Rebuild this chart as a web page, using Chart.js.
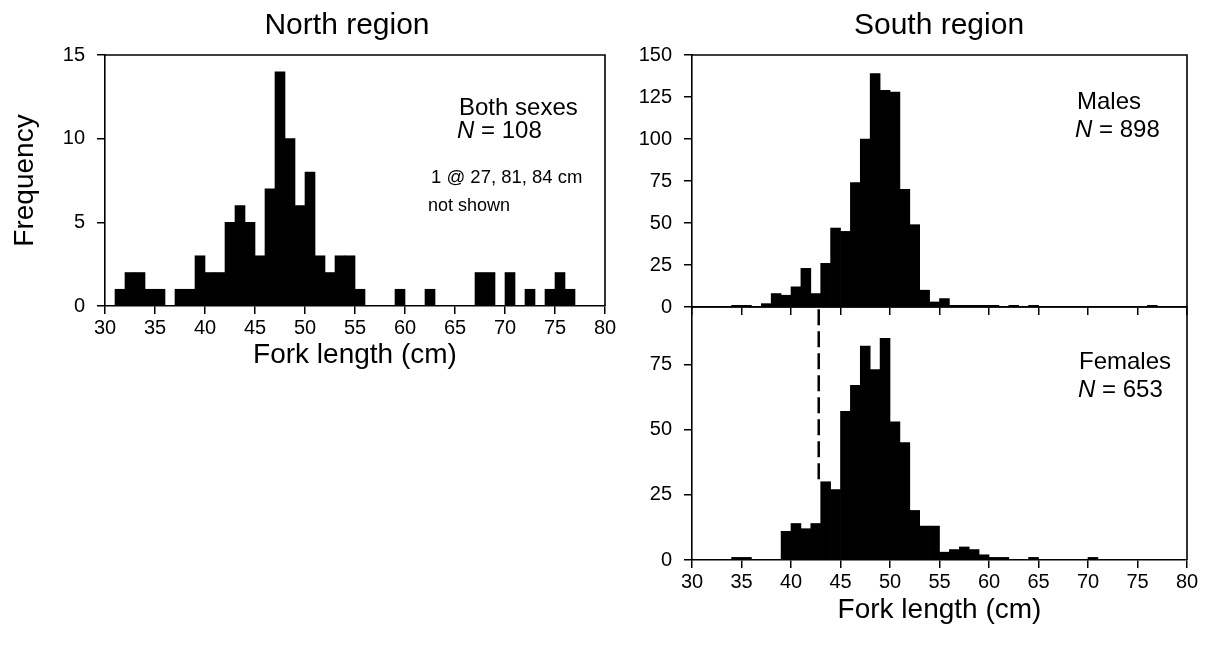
<!DOCTYPE html>
<html><head><meta charset="utf-8">
<script src="https://cdn.jsdelivr.net/npm/chart.js@4.4.1/dist/chart.umd.min.js"></script>
<style>
html,body{margin:0;padding:0;background:#fff;}
body{width:1219px;height:665px;position:relative;overflow:hidden;}
canvas{position:absolute;}
</style></head><body>
<canvas id="cn" width="640" height="400" style="left:0;top:0"></canvas>
<canvas id="cm" width="599" height="337" style="left:620px;top:0"></canvas>
<canvas id="cf" width="599" height="388" style="left:620px;top:277px"></canvas>
<script>
// ---- data (bin start, cm) ----
const bins = [30,31,32,33,34,35,36,37,38,39,40,41,42,43,44,45,46,47,48,49,50,51,52,53,54,55,56,57,58,59,60,61,62,63,64,65,66,67,68,69,70,71,72,73,74,75,76,77,78,79];
const northCounts = [0,1,2,2,1,1,0,1,1,3,2,2,5,6,5,3,7,14,10,6,8,3,2,3,3,1,0,0,0,1,0,0,1,0,0,0,0,2,2,0,2,0,1,0,1,2,1,0,0,0];
const maleCounts  = [0,0,0,0,1,1,0,2,8,7,12,23,8,26,47,45,74,100,139,129,128,70,49,10,3,5,1,1,1,1,1,0,1,0,1,0,0,0,0,0,0,0,0,0,0,0,1,0,0,0];
const femaleCounts= [0,0,0,0,1,1,0,0,0,11,14,12,14,30,27,57,67,82,73,85,53,45,19,13,13,3,4,5,4,2,1,1,0,0,1,0,0,0,0,0,1,0,0,0,0,0,0,0,0,0];
const dashX = 42.8;          // dashed reference line (cm)
const dashY = [31, 97];
const northTitle = 'North region', southTitle = 'South region';
const xTitle = 'Fork length (cm)', yTitle = 'Frequency';

const FONT = "'Liberation Sans', Arial, sans-serif";
const toXY = c => bins.map((b,i)=>({x:b+0.5, y:c[i]}));

const framePlugin = {
  id:'frame',
  afterDraw(chart, args, o){
    const ctx = chart.ctx, a = chart.chartArea;
    ctx.save();
    ctx.strokeStyle = '#000'; ctx.lineWidth = 1.6;
    ctx.beginPath(); ctx.moveTo(a.left, a.top); ctx.lineTo(a.right, a.top); ctx.lineTo(a.right, a.bottom); ctx.stroke();
    (o.texts||[]).forEach(t=>{
      let x = t.x - o.ox; const y = t.y - o.oy;
      ctx.textBaseline = 'middle'; ctx.fillStyle = '#000';
      if (t.center) {
        ctx.font = `${t.size}px ${FONT}`; ctx.textAlign='center'; ctx.fillText(t.parts[0].t, x, y); return;
      }
      ctx.textAlign = 'left';
      t.parts.forEach(p=>{
        ctx.font = `${p.i?'italic ':''}${t.size}px ${FONT}`;
        ctx.fillText(p.t, x, y); x += ctx.measureText(p.t).width;
      });
    });
    ctx.restore();
  }
};

function xScale(opts){
  return Object.assign({
    type:'linear', min:30, max:80, offset:false,
    ticks:{stepSize:5, color:'#000', font:{family:FONT,size:20}, padding:2, maxRotation:0, autoSkip:false},
    grid:{display:true, drawOnChartArea:false, drawTicks:true, tickLength:8, color:'#000', lineWidth:1.5, offset:false},
    border:{display:true, color:'#000', width:1.6}
  }, opts);
}
function yScale(opts){
  return Object.assign({
    beginAtZero:true,
    grid:{display:true, drawOnChartArea:false, drawTicks:true, tickLength:8, color:'#000', lineWidth:1.5},
    border:{display:true, color:'#000', width:1.6}
  }, opts);
}
const barDS = (c)=>({type:'bar', data:toXY(c), backgroundColor:'#000', borderWidth:0, barPercentage:1, categoryPercentage:1});
const common = {responsive:false, animation:false, events:[], plugins:{legend:{display:false}, tooltip:{enabled:false}}};
const TSZ = 30, ASZ = 28, NSZ = 24;

// North
new Chart(document.getElementById('cn'), {
  type:'bar',
  data:{datasets:[barDS(northCounts)]},
  options:Object.assign({}, common, {
    layout:{padding:{top:55,left:0,right:35,bottom:0}},
    plugins:Object.assign({}, common.plugins, {frame:{ox:0, oy:0, texts:[
      {x:347,y:26,size:TSZ,center:true,parts:[{t:northTitle}]},
      {x:459,y:108,size:NSZ,parts:[{t:'Both sexes'}]},
      {x:457,y:131,size:NSZ,parts:[{t:'N',i:true},{t:' = 108'}]},
      {x:431,y:178,size:18.5,parts:[{t:'1 @ 27, 81, 84 cm'}]},
      {x:428,y:206,size:18,parts:[{t:'not shown'}]}
    ]}}),
    scales:{
      x:xScale({title:{display:true,text:xTitle,color:'#000',font:{family:FONT,size:ASZ},padding:{top:0,bottom:28}},
        afterFit:s=>{s.height=94;}}),
      y:yScale({min:0,max:15,ticks:{stepSize:5,color:'#000',font:{family:FONT,size:20},padding:12},
        title:{display:true,text:yTitle,color:'#000',font:{family:FONT,size:ASZ},padding:{top:8,bottom:0}},
        afterFit:s=>{s.width=105;}})
    }
  }),
  plugins:[framePlugin]
});

// South males
new Chart(document.getElementById('cm'), {
  type:'bar',
  data:{datasets:[barDS(maleCounts)]},
  options:Object.assign({}, common, {
    layout:{padding:{top:55,left:0,right:32,bottom:0}},
    plugins:Object.assign({}, common.plugins, {frame:{ox:620, oy:0, texts:[
      {x:939,y:26,size:TSZ,center:true,parts:[{t:southTitle}]},
      {x:1077,y:102,size:NSZ,parts:[{t:'Males'}]},
      {x:1075,y:130,size:NSZ,parts:[{t:'N',i:true},{t:' = 898'}]}
    ]}}),
    scales:{
      x:xScale({ticks:{display:false,stepSize:5}, afterFit:s=>{s.height=30;}}),
      y:yScale({min:0,max:150,ticks:{stepSize:25,color:'#000',font:{family:FONT,size:20},padding:12},
        afterFit:s=>{s.width=72;}})
    }
  }),
  plugins:[framePlugin]
});

// South females
new Chart(document.getElementById('cf'), {
  type:'bar',
  data:{datasets:[barDS(femaleCounts),
    {type:'line', data:dashY.map(v=>({x:dashX,y:v})), borderColor:'#000', borderWidth:2.5, borderDash:[16,6], pointRadius:0, fill:false}]},
  options:Object.assign({}, common, {
    layout:{padding:{top:30,left:0,right:32,bottom:0}},
    plugins:Object.assign({}, common.plugins, {frame:{ox:620, oy:277, texts:[
      {x:1079,y:362,size:NSZ,parts:[{t:'Females'}]},
      {x:1078,y:390,size:NSZ,parts:[{t:'N',i:true},{t:' = 653'}]}
    ]}}),
    scales:{
      x:xScale({title:{display:true,text:xTitle,color:'#000',font:{family:FONT,size:ASZ},padding:{top:0,bottom:38}},
        afterFit:s=>{s.height=105;}}),
      y:yScale({min:0,max:97,ticks:{stepSize:25,includeBounds:false,color:'#000',font:{family:FONT,size:20},padding:12},
        afterFit:s=>{s.width=72;}})
    }
  }),
  plugins:[framePlugin]
});
</script>
</body></html>
